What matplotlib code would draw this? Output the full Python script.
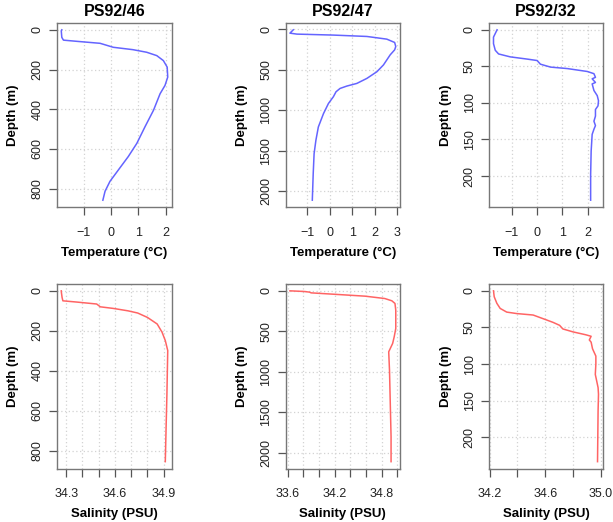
import numpy as np
import matplotlib
matplotlib.use("Agg")
from matplotlib import pyplot as plt

plt.rcParams['font.family'] = ['Liberation Sans', 'DejaVu Sans']

stations = ['PS92/46', 'PS92/47', 'PS92/32']

# temperature profiles (deg C) vs depth (m)
depth_t46 = [0, 5, 38, 52, 58, 68, 88, 100, 113, 130, 155, 188, 238, 280, 322, 405,
             488, 572, 638, 705, 763, 813, 858]
temp_46 = [-1.80, -1.82, -1.80, -1.74, -1.25, -0.40, 0.08, 0.80, 1.30, 1.67, 1.91, 2.05,
           2.07, 1.97, 1.79, 1.55, 1.24, 0.94, 0.63, 0.27, -0.04, -0.22, -0.30]

depth_t47 = [9, 50, 62, 74, 91, 124, 165, 215, 256, 318, 380, 442, 525, 608, 670, 703,
             732, 773, 835, 918, 1042, 1207, 1372, 1537, 1785, 2110]
temp_47 = [-1.63, -1.78, -1.47, 0.16, 1.66, 2.55, 2.90, 2.95, 2.90, 2.70, 2.55, 2.40,
           2.11, 1.66, 1.21, 0.76, 0.46, 0.28, 0.16, -0.06, -0.28, -0.51, -0.62, -0.70,
           -0.74, -0.78]

depth_t32 = [0, 5, 10, 19, 28, 33, 37, 40, 42, 47, 51, 53, 57, 60, 65, 67, 72, 74, 83,
             90, 97, 104, 109, 118, 125, 131, 136, 143, 166, 198, 233]
temp_32 = [-1.58, -1.65, -1.72, -1.72, -1.65, -1.52, -1.06, -0.40, 0.00, 0.13, 0.53,
           1.19, 1.98, 2.24, 2.30, 2.17, 2.30, 2.17, 2.24, 2.37, 2.42, 2.40, 2.30, 2.30,
           2.24, 2.30, 2.24, 2.17, 2.13, 2.11, 2.11]

# salinity profiles (PSU) vs depth (m)
depth_s46 = [0, 3, 33, 50, 56, 66, 80, 88, 100, 111, 133, 166, 207, 249, 299, 515, 681, 855]
sal_46 = [34.27, 34.27, 34.275, 34.28, 34.363, 34.488, 34.51, 34.59, 34.68, 34.74, 34.80,
          34.86, 34.89, 34.91, 34.925, 34.92, 34.915, 34.91]

depth_s47 = [0, 8, 16, 25, 45, 66, 95, 123, 156, 239, 362, 465, 568, 650, 712, 753, 979,
             1391, 1802, 2110]
sal_47 = [33.63, 33.81, 33.88, 33.90, 34.24, 34.59, 34.84, 34.93, 34.97, 34.98, 34.98,
          34.98, 34.96, 34.94, 34.91, 34.89, 34.90, 34.91, 34.92, 34.92]

depth_s32 = [0, 8, 17, 24, 29, 31, 33, 38, 43, 47, 52, 56, 60, 62, 67, 70, 79, 89, 100,
             114, 123, 132, 141, 164, 233]
sal_32 = [34.228, 34.233, 34.252, 34.276, 34.323, 34.395, 34.513, 34.585, 34.656,
          34.703, 34.727, 34.80, 34.893, 34.93, 34.917, 34.93, 34.94, 34.964, 34.964,
          34.96, 34.97, 34.98, 34.983, 34.98, 34.976]

# axis ticks
depth_ticks = [[0, 200, 400, 600, 800], [0, 500, 1000, 1500, 2000], [0, 50, 100, 150, 200]]
temp_ticks = [[-1, 0, 1, 2], [-1, 0, 1, 2, 3], [-1, 0, 1, 2]]
sal_ticks = [[34.3, 34.4, 34.5, 34.6, 34.7, 34.8, 34.9],
             [33.6, 33.8, 34.0, 34.2, 34.4, 34.6, 34.8, 35.0],
             [34.2, 34.4, 34.6, 34.8, 35.0]]
sal_labels = [['34.3', '', '', '34.6', '', '', '34.9'],
              ['33.6', '', '', '34.2', '', '', '34.8', ''],
              ['34.2', '', '34.6', '', '35.0']]

temps = [(temp_46, depth_t46), (temp_47, depth_t47), (temp_32, depth_t32)]
sals = [(sal_46, depth_s46), (sal_47, depth_s47), (sal_32, depth_s32)]

W, H = 613, 522
fig = plt.figure(figsize=(W / 100, H / 100), dpi=100)

col_left = [57, 285.7, 489.3]
col_w = [115, 114.3, 113.4]
row_top = [23, 284]
row_h = [184, 184.5]


def rlim(vals):
    # R style: pad the data range by 4% at each end
    lo, hi = min(vals), max(vals)
    d = (hi - lo) * 0.04
    return lo - d, hi + d


def style(ax, xt, xl, yt, xlabel, h):
    ax.set_xticks(xt)
    ax.set_xticklabels(xl)
    ax.set_yticks(yt)
    ax.set_yticklabels([str(v) for v in yt], rotation=90, va='center')
    ax.grid(True, color='#d3d3d3', linestyle=(0, (1, 2)), linewidth=0.9)
    for s in ax.spines.values():
        s.set_color('#777777')
        s.set_linewidth(1.0)
    ax.tick_params(length=5.8, width=0.9, color='#555555', labelsize=9,
                   labelcolor='#222222', pad=8.5)
    ax.tick_params(axis='y', pad=4)
    ax.set_xlabel(xlabel, fontsize=9.5, fontweight='bold', va='center')
    ax.xaxis.set_label_coords(0.5, -46 / h)
    ax.set_ylabel('Depth (m)', fontsize=9.5, fontweight='bold', va='center')
    ax.yaxis.set_label_coords(-44 / 115, 0.5)


for i in range(3):
    for r in range(2):
        ax = fig.add_axes([col_left[i] / W, 1 - (row_top[r] + row_h[r]) / H,
                           col_w[i] / W, row_h[r] / H])
        if r == 0:
            x, y = temps[i]
            ax.plot(x, y, color='#6464ff', linewidth=1.1)
            style(ax, temp_ticks[i], [f'\u2212{-v}' if v < 0 else str(v) for v in temp_ticks[i]],
                  depth_ticks[i], 'Temperature (°C)', row_h[r])
            ax.set_title(stations[i], fontsize=11.5, fontweight='bold', pad=5)
        else:
            x, y = sals[i]
            ax.plot(x, y, color='#ff6464', linewidth=1.1)
            style(ax, sal_ticks[i], sal_labels[i], depth_ticks[i], 'Salinity (PSU)', row_h[r])
        ax.set_xlim(*rlim(x))
        lo, hi = rlim(y)
        ax.set_ylim(hi, lo)

fig.savefig('out.png', dpi=100)
